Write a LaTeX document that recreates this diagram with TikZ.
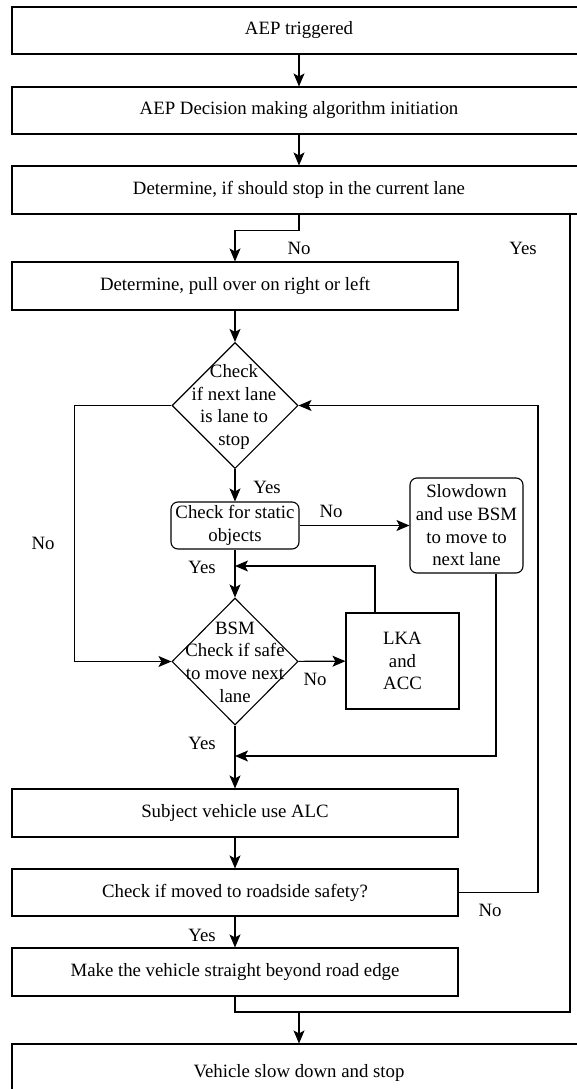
\documentclass[tikz,border=0pt]{standalone}
\usepackage{fontspec}
\setmainfont{Liberation Serif}
\usetikzlibrary{arrows.meta,shapes.geometric}

\tikzset{
  every node/.style={font=\fontsize{18.8}{22.7}\selectfont, inner sep=0pt},
  box/.style={draw, line width=1.1pt, rectangle, minimum width=446pt, minimum height=48pt},
  widebox/.style={draw, line width=1.1pt, rectangle, minimum width=574pt, minimum height=47pt},
  rbox/.style={draw, line width=1.1pt, rectangle, rounded corners=7pt, align=center},
  sqbox/.style={draw, line width=1.1pt, rectangle, align=center},
  dia/.style={draw, line width=1.1pt, diamond, minimum width=126pt, minimum height=126pt},
  diatext/.style={align=center},
  lbl/.style={},
  link/.style={line width=1.1pt},
  arr/.style={line width=1.1pt, -{Stealth[length=13pt,width=11pt,inset=3pt]}}
}

\begin{document}
\begin{tikzpicture}[x=1pt,y=-1pt]
  \useasboundingbox (0,0) rectangle (577,1089);
  \clip (0,0) rectangle (577,1089);
  \fill[white] (0,0) rectangle (577,1089);

  % main column of process boxes
  \node[widebox] (b1) at (299,30.5) {AEP triggered};
  \node[widebox] (b2) at (299,110.5) {AEP Decision making algorithm initiation};
  \node[widebox, minimum height=48pt] (b3) at (299,190) {Determine, if should stop in the current lane};
  \node[box] (b4) at (235,286) {Determine, pull over on right or left};

  % decisions and side boxes
  \node[dia] (d1) at (235,405.5) {};
  \node[diatext] (d1t) at (234,407) {Check\\if next lane\\is lane to\\stop};
  \node[rbox, minimum width=128pt, minimum height=47pt] (st) at (235,525.5) {Check for static\\objects};
  \node[rbox, minimum width=113pt, minimum height=95pt] (sl) at (466.5,525.5) {Slowdown\\and use BSM\\to move to\\next lane};
  \node[dia, minimum height=127pt] (d2) at (235,661.5) {};
  \node[diatext] (d2t) at (235,662) {BSM\\Check if safe\\to move next\\lane};
  \node[sqbox, minimum width=113pt, minimum height=96pt] (lka) at (402.5,661) {LKA\\and\\ACC};

  \node[box] (alc) at (235,813) {Subject vehicle use ALC};
  \node[box, minimum height=47pt] (cm) at (235,892.5) {Check if moved to roadside safety?};
  \node[box] (mk) at (235,972) {Make the vehicle straight beyond road edge};
  \node[widebox, minimum height=58pt] (fin) at (299,1073) {Vehicle slow down and stop};

  % routing points
  \coordinate (yx) at (570,0);
  \coordinate (rx) at (538,0);
  \coordinate (sx) at (496,0);
  \coordinate (lx) at (375,0);
  \coordinate (j) at (299,1012);
  \coordinate (m1) at (235,566);
  \coordinate (m2) at (235,756);

  % connectors
  \draw[arr] (b1) -- (b2);
  \draw[arr] (b2) -- (b3);
  \draw[arr] (b3.south) -- ++(0,16) -| (b4.north);
  \draw[arr] (b4) -- (d1);
  \draw[arr] (d1.west) -- ++(-97,0) |- (d2.west);
  \draw[arr] (d1) -- (st);
  \draw[arr] (st) -- (sl);
  \draw[arr] (st) -- (d2);
  \draw[arr] (sl.south -| sx) |- (m2);
  \draw[arr] (lka.north -| lx) |- (m1);
  \draw[arr] (d2) -- (lka);
  \draw[arr] (d2) -- (alc);
  \draw[arr] (alc) -- (cm);
  \draw[arr] (cm.east) -| (rx |- d1.east) -- (d1.east);
  \draw[arr] (cm) -- (mk);
  \draw[link] (mk.south) |- (yx |- j) -- (b3.south -| yx);
  \draw[arr] (j) -- (fin.north -| j);

  % branch labels
  \node[lbl] (l1) at (299,248) {No};
  \node[lbl] (l2) at (523,248) {Yes};
  \node[lbl] (l3) at (43,543) {No};
  \node[lbl] (l4) at (267,487) {Yes};
  \node[lbl] (l5) at (331,511) {No};
  \node[lbl] (l6) at (202,567) {Yes};
  \node[lbl] (l7) at (315,679) {No};
  \node[lbl] (l8) at (202,743) {Yes};
  \node[lbl] (l9) at (490,910) {No};
  \node[lbl] (l10) at (202,935) {Yes};
\end{tikzpicture}
\end{document}
